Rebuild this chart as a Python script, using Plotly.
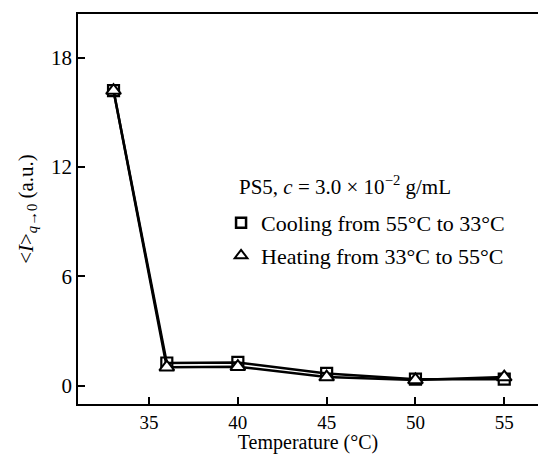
import plotly.graph_objects as go

# Temperatures (°C) and mean scattered intensity extrapolated to q -> 0
temperature = [33, 36, 40, 45, 50, 55]
cooling = [16.2, 1.25, 1.28, 0.68, 0.36, 0.36]
heating = [16.2, 1.02, 1.05, 0.48, 0.32, 0.48]

x_ticks = [35, 40, 45, 50, 55]
y_ticks = [0, 6, 12, 18]

serif = "Liberation Serif, Times New Roman, serif"
line_style = dict(color="black", width=2.5)

fig = go.Figure()

fig.add_trace(go.Scatter(
    x=temperature, y=cooling, mode="lines+markers", showlegend=False,
    line=line_style,
    marker=dict(symbol="square-open", size=11, color="black", line=dict(width=2.2)),
))
fig.add_trace(go.Scatter(
    x=temperature, y=heating, mode="lines+markers", showlegend=False,
    line=line_style,
    marker=dict(symbol="triangle-up", size=13, color="white",
                line=dict(color="black", width=2)),
))

# legend entries (markers only)
fig.add_trace(go.Scatter(
    x=[None], y=[None], mode="markers", name="Cooling from 55°C to 33°C",
    legendgroup="c",
    marker=dict(symbol="square-open", size=10, color="black", line=dict(width=2.5)),
))
fig.add_trace(go.Scatter(
    x=[None], y=[None], mode="markers", name="Heating from 33°C to 55°C",
    legendgroup="h",
    marker=dict(symbol="triangle-up-open", size=11, color="black", line=dict(width=2)),
))

fig.add_annotation(
    xref="paper", yref="paper", x=0.345, y=0.5615, xanchor="left", yanchor="middle",
    text="PS5, <i>c</i> = 3.0 × 10<sup>−2</sup> g/mL", showarrow=False,
    font=dict(family=serif, size=21, color="black"),
)

fig.update_layout(
    width=538, height=454,
    margin=dict(l=78, r=0, t=14, b=50),
    paper_bgcolor="white", plot_bgcolor="white",
    font=dict(family=serif, size=20, color="black"),
    legend=dict(
        x=0.311, y=0.518, xanchor="left", yanchor="top",
        bgcolor="rgba(0,0,0,0)", tracegroupgap=1,
        font=dict(family=serif, size=22, color="black"),
        itemwidth=30,
    ),
    xaxis=dict(
        range=[31.0, 56.9], tickvals=x_ticks, ticks="inside", ticklen=7,
        tickwidth=1.5, tickcolor="black", showline=True, linecolor="black",
        linewidth=1.5, mirror=True, showgrid=False, zeroline=False,
        title=dict(text="Temperature (°C)", standoff=4,
                   font=dict(family=serif, size=20)),
        tickfont=dict(family=serif, size=19),
    ),
    yaxis=dict(
        range=[-1.0, 20.4], tickvals=y_ticks, ticks="inside", ticklen=7,
        tickwidth=1.5, tickcolor="black", showline=True, linecolor="black",
        linewidth=1.5, mirror=False, showgrid=False, zeroline=False,
        title=dict(text="&lt;<i>I</i>&gt;<sub><i>q</i>→0</sub> (a.u.)", standoff=12,
                   font=dict(family=serif, size=21)),
        tickfont=dict(family=serif, size=21),
    ),
)

fig.write_html("out.html")
